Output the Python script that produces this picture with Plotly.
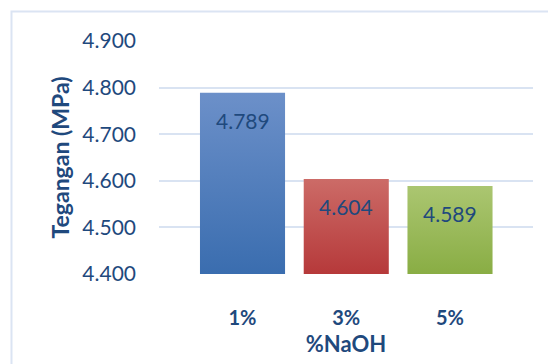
import plotly.graph_objects as go

# Tensile stress versus NaOH concentration
categories = ["1%", "3%", "5%"]
stress = [4.789, 4.604, 4.589]
y_ticks = [4.4, 4.5, 4.6, 4.7, 4.8, 4.9]
y_tick_labels = ["4.400", "4.500", "4.600", "4.700", "4.800", "4.900"]

# gradient per bar: (bottom colour, top colour)
bar_gradients = [
    ("#3a6daf", "#6c90c9"),
    ("#b6393a", "#cc6b67"),
    ("#89ad44", "#abc671"),
]

TEXT = "#1f497d"
GRID = "#d9e3f2"
FONT = "Lato, 'Open Sans', sans-serif"
BASE = y_ticks[0]
HALF_W = 0.41

fig = go.Figure()

for i, (cat, val) in enumerate(zip(categories, stress)):
    lo, hi = bar_gradients[i]
    fig.add_trace(go.Scatter(
        x=[i - HALF_W, i + HALF_W, i + HALF_W, i - HALF_W, i - HALF_W],
        y=[BASE, BASE, val, val, BASE],
        mode="lines",
        line=dict(width=0),
        fill="toself",
        fillgradient=dict(type="vertical", colorscale=[[0, lo], [1, hi]]),
        name=cat,
        showlegend=False,
        hoverinfo="skip",
    ))
    fig.add_annotation(
        x=i, y=val, text=f"{val:.3f}",
        showarrow=False, yanchor="top", yshift=-13,
        font=dict(family=FONT, size=21, color=TEXT),
    )

# chart frame
fig.add_shape(
    type="rect", xref="paper", yref="paper",
    x0=-0.3944, x1=1.08, y0=-0.46, y1=1.127,
    line=dict(color="#dbe4f3", width=2), fillcolor="rgba(0,0,0,0)",
    layer="below",
)

fig.update_layout(
    width=548, height=364,
    margin=dict(l=159, r=15, t=41, b=90),
    paper_bgcolor="white", plot_bgcolor="white",
    showlegend=False,
    font=dict(family=FONT, color=TEXT),
    xaxis=dict(
        range=[-0.805, 2.80],
        tickmode="array", tickvals=list(range(len(categories))), ticktext=categories,
        tickfont=dict(family=FONT, size=20, color=TEXT, weight="bold"),
        showgrid=False, zeroline=False, showline=False, ticks="",
        ticklabelstandoff=30,
        title=dict(text="%NaOH", font=dict(family=FONT, size=22, color=TEXT, weight="bold"),
                   standoff=8),
    ),
    yaxis=dict(
        range=[y_ticks[0], y_ticks[-1]],
        tickmode="array", tickvals=y_ticks, ticktext=y_tick_labels,
        tickfont=dict(family=FONT, size=21, color=TEXT),
        showgrid=True, gridcolor=GRID, gridwidth=2,
        zeroline=False, showline=False, ticks="",
        ticklabelstandoff=22,
        title=dict(text="Tegangan (MPa)", font=dict(family=FONT, size=23, color=TEXT, weight="bold"),
                   standoff=6),
    ),
)

fig.write_html("out.html")
